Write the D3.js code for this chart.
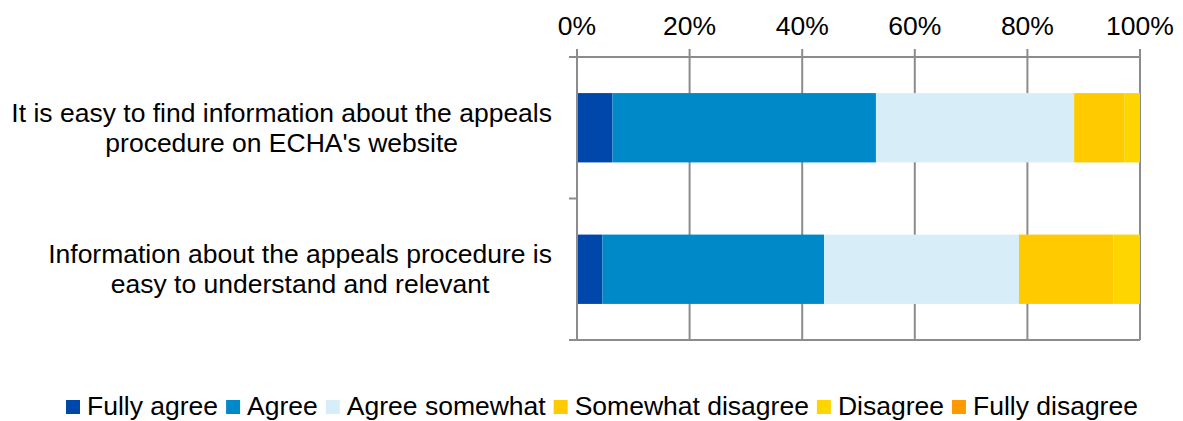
<!DOCTYPE html>
<html lang="en">
<head>
<meta charset="UTF-8">
<title>Appeals procedure information - survey</title>
<script src="https://cdn.jsdelivr.net/npm/d3@7"></script>
<style>
	body { margin: 0; background: #fff; }
	svg { display: block; font-family: "Liberation Sans", Arial, sans-serif; }
	.grid line { stroke: #8c8c8c; stroke-width: 2; }
	.axisline { stroke: #8c8c8c; stroke-width: 2; fill: none; }
	.lbl { font-size: 26.5px; fill: #000; }
</style>
</head>
<body>
<script>
// statements (each split into the two lines shown)
var statements = [
	["It is easy to find information about the appeals", "procedure on ECHA's website"],
	["Information about the appeals procedure is", "easy to understand and relevant"]
];
var answers = ["Fully agree", "Agree", "Agree somewhat", "Somewhat disagree", "Disagree", "Fully disagree"];
var colours = ["#0047ab", "#0089c8", "#d7eef9", "#ffcb00", "#ffd500", "#ff9900"];

// share of answers in % per statement
var fullyAgree       = [6.3, 4.5];
var agree            = [46.8, 39.4];
var agreeSomewhat    = [35.2, 34.6];
var somewhatDisagree = [8.9, 16.8];
var disagree         = [2.8, 4.7];
var fullyDisagree    = [0, 0];

var tickValues = [0, 20, 40, 60, 80, 100];

window.onload = function () {
	var width = 1183, height = 421;
	var left = 577, right = 1140, top = 57, bottom = 340;

	var series = [fullyAgree, agree, agreeSomewhat, somewhatDisagree, disagree, fullyDisagree];
	var rows = statements.map(function (s, i) {
		var r = { id: i };
		answers.forEach(function (a, j) { r[a] = series[j][i]; });
		return r;
	});

	var x = d3.scaleLinear().domain([0, 100]).range([left, right]);
	var y = d3.scaleBand().domain(d3.range(statements.length)).range([top, bottom])
		.paddingInner(0.51).paddingOuter(0.255);
	var bandStep = (bottom - top) / statements.length;

	var svg = d3.select("body").append("svg")
		.attr("width", width)
		.attr("height", height);

	// gridlines
	svg.append("g").attr("class", "grid")
		.selectAll("line")
		.data(tickValues)
		.enter().append("line")
		.attr("x1", function (d) { return x(d); })
		.attr("x2", function (d) { return x(d); })
		.attr("y1", top - 8)
		.attr("y2", bottom);

	// stacked bars
	var stack = d3.stack().keys(answers);
	var layers = stack(rows);

	svg.append("g")
		.selectAll("g")
		.data(layers)
		.enter().append("g")
		.attr("fill", function (d, i) { return colours[i]; })
		.selectAll("rect")
		.data(function (d) { return d; })
		.enter().append("rect")
		.attr("x", function (d) { return x(d[0]); })
		.attr("width", function (d) { return x(d[1]) - x(d[0]); })
		.attr("y", function (d) { return y(d.data.id); })
		.attr("height", y.bandwidth());

	// axis lines (top value axis, left category axis, bottom frame)
	svg.append("line").attr("class", "axisline")
		.attr("x1", left - 8).attr("x2", right).attr("y1", top).attr("y2", top);
	svg.append("line").attr("class", "axisline")
		.attr("x1", left - 8).attr("x2", right).attr("y1", bottom).attr("y2", bottom);
	svg.append("line").attr("class", "axisline")
		.attr("x1", left).attr("x2", left).attr("y1", top).attr("y2", bottom);
	svg.append("line").attr("class", "axisline")
		.attr("x1", left - 8).attr("x2", left)
		.attr("y1", top + bandStep).attr("y2", top + bandStep);

	// tick labels
	svg.append("g")
		.selectAll("text")
		.data(tickValues)
		.enter().append("text")
		.attr("class", "lbl")
		.attr("x", function (d) { return x(d); })
		.attr("y", 35)
		.attr("text-anchor", "middle")
		.text(function (d) { return d + "%"; });

	// category labels, centred block ending near the axis
	statements.forEach(function (lines, i) {
		var g = svg.append("g");
		var cy = y(i) + y.bandwidth() / 2;
		var t = g.selectAll("text")
			.data(lines)
			.enter().append("text")
			.attr("class", "lbl")
			.attr("y", function (d, k) { return cy - 15 + k * 30 + 9; })
			.text(function (d) { return d; });
		var maxW = 0;
		t.each(function () { maxW = Math.max(maxW, this.getComputedTextLength()); });
		t.attr("x", 552 - maxW / 2).attr("text-anchor", "middle");
	});

	// legend
	var legend = svg.append("g");
	var lx = 66;
	answers.forEach(function (a, i) {
		legend.append("rect")
			.attr("x", lx).attr("y", 400)
			.attr("width", 14).attr("height", 14)
			.attr("fill", colours[i]);
		var t = legend.append("text")
			.attr("class", "lbl")
			.attr("x", lx + 21)
			.attr("y", 415)
			.text(a);
		lx += 21 + t.node().getComputedTextLength() + 8;
	});
};
</script>
</body>
</html>
